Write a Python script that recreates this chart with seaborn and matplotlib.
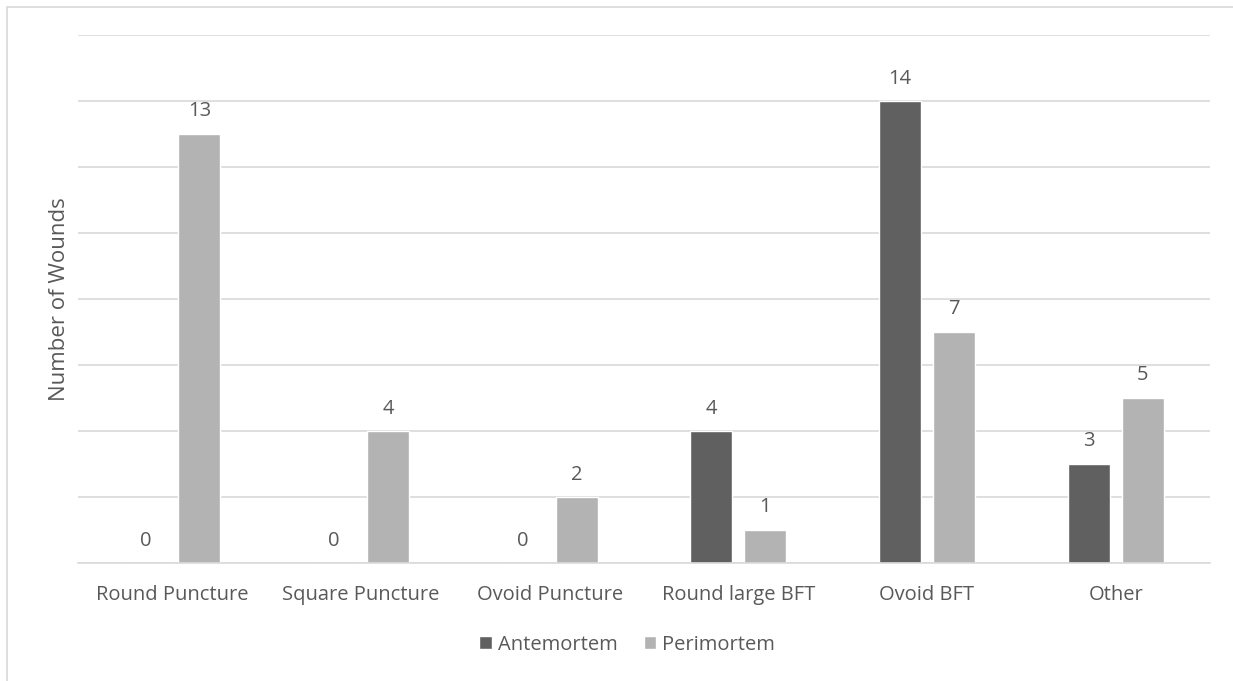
import matplotlib
matplotlib.use("Agg")
import matplotlib.pyplot as plt
from matplotlib.lines import Line2D
import seaborn as sns
import pandas as pd

categories = ["Round Puncture", "Square Puncture", "Ovoid Puncture",
              "Round large BFT", "Ovoid BFT", "Other"]
antemortem = [0, 0, 0, 4, 14, 3]
perimortem = [13, 4, 2, 1, 7, 5]
series = ["Antemortem", "Perimortem"]
colors = {"Antemortem": "#606060", "Perimortem": "#b3b3b3"}

df = pd.DataFrame({
    "Category": categories * 2,
    "Type": [series[0]] * len(categories) + [series[1]] * len(categories),
    "Wounds": antemortem + perimortem,
})

sns.set_theme(style="white")
plt.rcParams["font.family"] = ["Open Sans", "DejaVu Sans"]
text_color = "#595959"

fig = plt.figure(figsize=(12.33, 6.81), dpi=100)
ax = fig.add_axes([78 / 1233, 1 - 563 / 681, (1210 - 78) / 1233, (563 - 35) / 681])

sns.barplot(data=df, x="Category", y="Wounds", hue="Type", order=categories,
            hue_order=series, palette=colors, width=0.572, gap=0.22,
            saturation=1, ax=ax, legend=True)

ax.set_ylim(0, 16)
ax.set_xlim(-0.5, len(categories) - 0.5)
ax.set_yticks(range(0, 17, 2))
ax.yaxis.grid(True, color="#d9d9d9", linewidth=1.2)
ax.set_axisbelow(True)
ax.tick_params(axis="y", left=False, labelleft=False)
ax.tick_params(axis="x", bottom=False, labelsize=14.5, labelcolor=text_color, pad=10)
for s in ["top", "right", "left"]:
    ax.spines[s].set_visible(False)
ax.spines["bottom"].set_color("#d9d9d9")
ax.spines["bottom"].set_linewidth(1.2)
ax.set_xlabel("")
ax.set_ylabel("Number of Wounds", fontsize=16, color=text_color, labelpad=6)

for container in ax.containers:
    ax.bar_label(container, fmt="%d", padding=9, fontsize=14.5, color=text_color)

handles, labels = ax.get_legend_handles_labels()
ax.legend(handles, labels, loc="center", bbox_to_anchor=(0.485, -0.155),
          ncol=2, frameon=False, fontsize=14.5, labelcolor=text_color,
          handlelength=0.6, handleheight=0.6, handletextpad=0.3, columnspacing=1.3)

# outer chart border
fig.add_artist(Line2D([7 / 1233, 1], [1 - 7 / 681, 1 - 7 / 681], color="#d9d9d9", linewidth=1.2))
fig.add_artist(Line2D([7 / 1233, 7 / 1233], [0, 1 - 7 / 681], color="#d9d9d9", linewidth=1.2))

fig.savefig("out.png", dpi=100, facecolor="white")
